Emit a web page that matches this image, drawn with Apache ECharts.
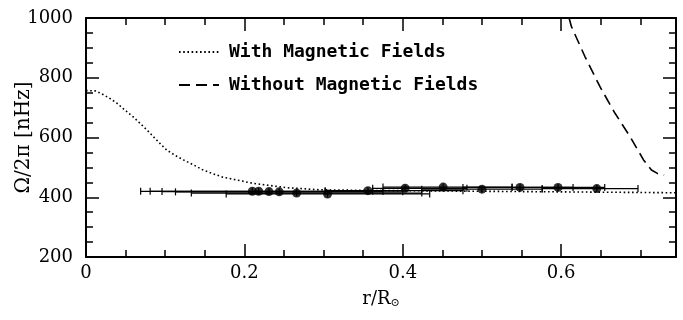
<!DOCTYPE html>
<html>
<head>
<meta charset="utf-8">
<script src="https://cdn.jsdelivr.net/npm/echarts@6/dist/echarts.min.js"></script>
<style>html,body{margin:0;padding:0;background:#fff;}#c{width:683px;height:320px;}</style>
</head>
<body>
<div id="c"></div>
<script>
// Data points (r/R_sun, Omega/2pi in nHz) with horizontal resolution extents
const rCenters = [0.210, 0.218, 0.231, 0.244, 0.266, 0.305, 0.356, 0.403, 0.451, 0.500, 0.548, 0.596, 0.645];
const omegaVals = [420, 420, 419, 418, 414, 411, 422, 430, 434, 427, 433, 433, 429];
const rLow  = [0.069, 0.081, 0.096, 0.113, 0.133, 0.177, 0.302, 0.362, 0.375, 0.424, 0.476, 0.538, 0.576];
const rHigh = [0.302, 0.362, 0.375, 0.400, 0.424, 0.434, 0.476, 0.481, 0.538, 0.576, 0.615, 0.655, 0.697];

// "With Magnetic Fields" curve
const withR = [0, 0.012, 0.02, 0.03, 0.039, 0.049, 0.06, 0.068, 0.077, 0.085, 0.093, 0.102, 0.112, 0.123, 0.136, 0.148, 0.161, 0.173, 0.19, 0.21, 0.23, 0.254, 0.295, 0.35, 0.4, 0.5, 0.6, 0.7, 0.745];
const withV = [757, 756, 746, 731, 715, 692, 668, 648, 625, 603, 581, 558, 541, 525, 508, 491, 478, 467, 458, 447, 440, 432, 425, 423, 422, 420, 418, 416, 415];

// "Without Magnetic Fields" curve
const withoutR = [0.61, 0.613, 0.63, 0.649, 0.668, 0.687, 0.704, 0.714, 0.722, 0.73];
const withoutV = [1000, 971, 871, 770, 681, 603, 525, 491, 479, 474];

const xTicks = [0, 0.2, 0.4, 0.6];
const yTicks = [200, 400, 600, 800, 1000];

const legendNames = ['With Magnetic Fields', 'Without Magnetic Fields'];

const serifFont = 'DejaVu Serif';

function axisCommon() {
  return {
    axisLine: {show: true, onZero: false, lineStyle: {color: '#000', width: 2}},
    axisTick: {show: true, inside: true, length: 13, lineStyle: {color: '#000', width: 1.5}},
    minorTick: {show: true, splitNumber: 4, length: 7, lineStyle: {color: '#000', width: 1.5}},
    splitLine: {show: false},
    minorSplitLine: {show: false}
  };
}

const chart = echarts.init(document.getElementById('c'), null, {renderer: 'canvas'});

const option = {
  animation: false,
  backgroundColor: '#fff',
  grid: {left: 86, right: 7, top: 18, bottom: 63, containLabel: false, outerBoundsMode: 'none'},
  legend: {
    orient: 'vertical',
    left: 178,
    top: 42,
    padding: 0,
    itemWidth: 40,
    itemHeight: 14,
    itemGap: 13,
    data: legendNames,
    itemStyle: {opacity: 0},
    textStyle: {fontFamily: 'DejaVu Sans Mono', fontSize: 18, fontWeight: 'bold', color: '#000', lineHeight: 20, padding: [0, 0, 0, 5]}
  },
  xAxis: [
    Object.assign({
      type: 'value', min: 0, max: 0.745, interval: 0.2, position: 'bottom',
      name: '{a|r/R}{s|⊙}', nameLocation: 'middle', nameGap: 32, nameMoveOverlap: false,
      nameTextStyle: {
        rich: {
          a: {fontFamily: serifFont, fontSize: 18, color: '#000'},
          s: {fontFamily: serifFont, fontSize: 11, color: '#000', padding: [9, 0, 0, 0]}
        }
      },
      axisLabel: {
        show: true, margin: 7, showMaxLabel: false,
        fontFamily: serifFont, fontSize: 18, color: '#000',
        formatter: function (v) { return xTicks.indexOf(Math.round(v * 10) / 10) >= 0 ? String(Math.round(v * 10) / 10) : ''; }
      }
    }, axisCommon()),
    Object.assign({
      type: 'value', min: 0, max: 0.745, interval: 0.2, position: 'top',
      axisLabel: {show: false}
    }, axisCommon())
  ],
  yAxis: [
    Object.assign({
      type: 'value', min: 200, max: 1000, interval: 200, position: 'left',
      name: 'Ω/2π [nHz]', nameLocation: 'middle', nameGap: 52, nameRotate: 90, nameMoveOverlap: false,
      nameTextStyle: {fontFamily: serifFont, fontSize: 20, color: '#000'},
      axisLabel: {
        show: true, margin: 13, fontFamily: serifFont, fontSize: 18, color: '#000',
        formatter: function (v) { return yTicks.indexOf(v) >= 0 ? String(v) : ''; }
      }
    }, axisCommon()),
    Object.assign({
      type: 'value', min: 200, max: 1000, interval: 200, position: 'right',
      axisLabel: {show: false}
    }, axisCommon())
  ],
  series: [
    {
      name: legendNames[0],
      type: 'line',
      data: withR.map((r, i) => [r, withV[i]]),
      symbol: 'none',
      smooth: false,
      clip: true,
      lineStyle: {color: '#000', width: 1.6, type: [1.6, 2.6]},
      itemStyle: {color: '#000'},
      z: 3
    },
    {
      name: legendNames[1],
      type: 'line',
      data: withoutR.map((r, i) => [r, withoutV[i]]),
      symbol: 'none',
      smooth: false,
      clip: true,
      lineStyle: {color: '#000', width: 1.6, type: [11, 6]},
      itemStyle: {color: '#000'},
      z: 3
    },
    {
      name: 'errorbars',
      type: 'custom',
      data: rCenters.map((r, i) => [r, omegaVals[i], rLow[i], rHigh[i]]),
      encode: {x: [0, 2, 3], y: 1},
      renderItem: function (params, api) {
        const y = api.value(1);
        const lo = api.coord([api.value(2), y]);
        const hi = api.coord([api.value(3), y]);
        const ctr = api.coord([api.value(0), y]);
        const cap = 3.5;
        const st = {stroke: '#000', lineWidth: 1.2};
        return {
          type: 'group',
          children: [
            {type: 'line', shape: {x1: lo[0], y1: lo[1], x2: hi[0], y2: hi[1]}, style: st},
            {type: 'line', shape: {x1: lo[0], y1: lo[1] - cap, x2: lo[0], y2: lo[1] + cap}, style: st},
            {type: 'line', shape: {x1: hi[0], y1: hi[1] - cap, x2: hi[0], y2: hi[1] + cap}, style: st},
            {type: 'line', shape: {x1: ctr[0], y1: ctr[1] - cap, x2: ctr[0], y2: ctr[1] + cap}, style: st}
          ]
        };
      },
      z: 4
    },
    {
      name: 'points',
      type: 'scatter',
      data: rCenters.map((r, i) => [r, omegaVals[i]]),
      symbol: 'circle',
      symbolSize: 9,
      itemStyle: {color: '#000'},
      z: 5
    }
  ]
};
chart.setOption(option);
</script>
</body>
</html>
